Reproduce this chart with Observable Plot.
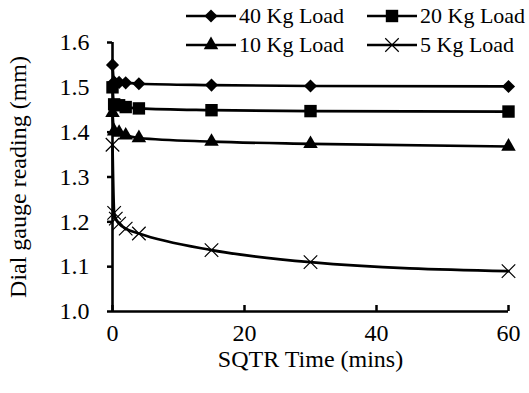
<!DOCTYPE html>
<html>
<head>
<meta charset="utf-8">
<script src="https://cdn.jsdelivr.net/npm/d3@7"></script>
<script src="https://cdn.jsdelivr.net/npm/@observablehq/plot@0.6"></script>
<style>
  html, body { margin: 0; padding: 0; background: #fff; }
  #wrap { position: relative; width: 529px; height: 393px; font-family: "Liberation Serif", "Times New Roman", serif; }
  #legend { position: absolute; left: 0; top: 0; width: 529px; height: 60px; pointer-events: none; }
  .item { position: absolute; display: flex; align-items: center; font-size: 22px; color: #000; white-space: nowrap; line-height: 24px; }
  .item svg { margin-right: 3px; }
</style>
</head>
<body>
<div id="wrap"><div id="legend"></div></div>
<script>
// Data
const seriesNames = ["40 Kg Load", "20 Kg Load", "10 Kg Load", "5 Kg Load"];
const symbols = ["diamond", "square", "triangle", "times"];

const x40 = [0, 0.25, 1, 2, 4, 15, 30, 60];
const y40 = [1.550, 1.512, 1.511, 1.510, 1.508, 1.505, 1.503, 1.502];

const x20 = [0, 0.25, 1, 2, 4, 15, 30, 60];
const y20 = [1.500, 1.462, 1.460, 1.456, 1.453, 1.449, 1.447, 1.446];

const x10 = [0, 0.25, 1, 2, 4, 15, 30, 60];
const y10 = [1.443, 1.402, 1.399, 1.393, 1.387, 1.379, 1.374, 1.368];

const x5 = [0, 0.25, 0.5, 1, 2, 4, 15, 30, 60];
const y5 = [1.372, 1.220, 1.207, 1.196, 1.185, 1.174, 1.137, 1.110, 1.090];

const xTicks = [0, 20, 40, 60];
const yTicks = [1.0, 1.1, 1.2, 1.3, 1.4, 1.5, 1.6];

const build = (xs, ys, name, sym) => xs.map((x, i) => ({x, y: ys[i], name, sym}));
const series = [
  build(x40, y40, seriesNames[0], symbols[0]),
  build(x20, y20, seriesNames[1], symbols[1]),
  build(x10, y10, seriesNames[2], symbols[2]),
  build(x5, y5, seriesNames[3], symbols[3])
];
const symType = {diamond: d3.symbolDiamond2, square: d3.symbolSquare, triangle: d3.symbolTriangle, times: d3.symbolTimes};
const rAll = {diamond: 5.9, square: 7, triangle: 5.4, times: 6.2};

const marks = [];
for (const s of series) {
  marks.push(Plot.line(s, {x: "x", y: "y", stroke: "#000", strokeWidth: 2.7, curve: "monotone-x"}));
}
for (const s of series) {
  const sym = s[0].sym;
  if (sym === "times") {
    marks.push(Plot.dot(s, {x: "x", y: "y", symbol: symType[sym], r: rAll[sym], stroke: "#000", strokeWidth: 1.2, fill: "none"}));
  } else {
    marks.push(Plot.dot(s, {x: "x", y: "y", symbol: symType[sym], r: rAll[sym], fill: "#000", stroke: "none"}));
  }
}

const chart = Plot.plot({
  width: 529,
  height: 393,
  marginLeft: 112,
  marginRight: 21,
  marginTop: 42,
  marginBottom: 82,
  style: {fontFamily: "'Liberation Serif', 'Times New Roman', serif", fontSize: "24px", color: "#000", background: "#fff", overflow: "visible"},
  x: {domain: [0, 60]},
  y: {domain: [1.0, 1.6]},
  marks: [
    Plot.axisY({ticks: yTicks, tickFormat: d3.format(".1f"), tickSize: 5, tickPadding: 18, strokeWidth: 2.5,
      label: "Dial gauge reading (mm)", labelAnchor: "center", labelArrow: "none", labelOffset: 104, fontSize: 24}),
    Plot.axisX({ticks: xTicks, tickSize: -6, tickPadding: 18, strokeWidth: 2.5,
      label: "SQTR Time (mins)", labelAnchor: "center", labelArrow: "none", labelOffset: 55, fontSize: 24}),
    Plot.ruleX([0], {stroke: "#000", strokeWidth: 2.6}),
    Plot.ruleY([1.0], {stroke: "#000", strokeWidth: 2.6}),
    ...marks
  ]
});
document.getElementById("wrap").prepend(chart);

// Legend (HTML overlay): marker centre x and row centre y
const legendPos = [[211, 16], [392, 16], [211, 45], [392, 45]];
const leg = document.getElementById("legend");
seriesNames.forEach((name, i) => {
  const div = document.createElement("div");
  div.className = "item";
  div.style.left = (legendPos[i][0] - 25) + "px";
  div.style.top = (legendPos[i][1] - 12) + "px";
  const sym = symbols[i];
  const size = rAll[sym] * rAll[sym] * Math.PI;
  const path = d3.symbol(symType[sym], size)();
  const ico = sym === "times"
    ? `<path d="${path}" transform="translate(25,12)" fill="none" stroke="#000" stroke-width="1.2"/>`
    : `<path d="${path}" transform="translate(25,12)" fill="#000"/>`;
  div.innerHTML = `<svg width="50" height="24"><line x1="0" x2="50" y1="12" y2="12" stroke="#000" stroke-width="2.7"/>${ico}</svg><span>${name}</span>`;
  leg.appendChild(div);
});
</script>
</body>
</html>
